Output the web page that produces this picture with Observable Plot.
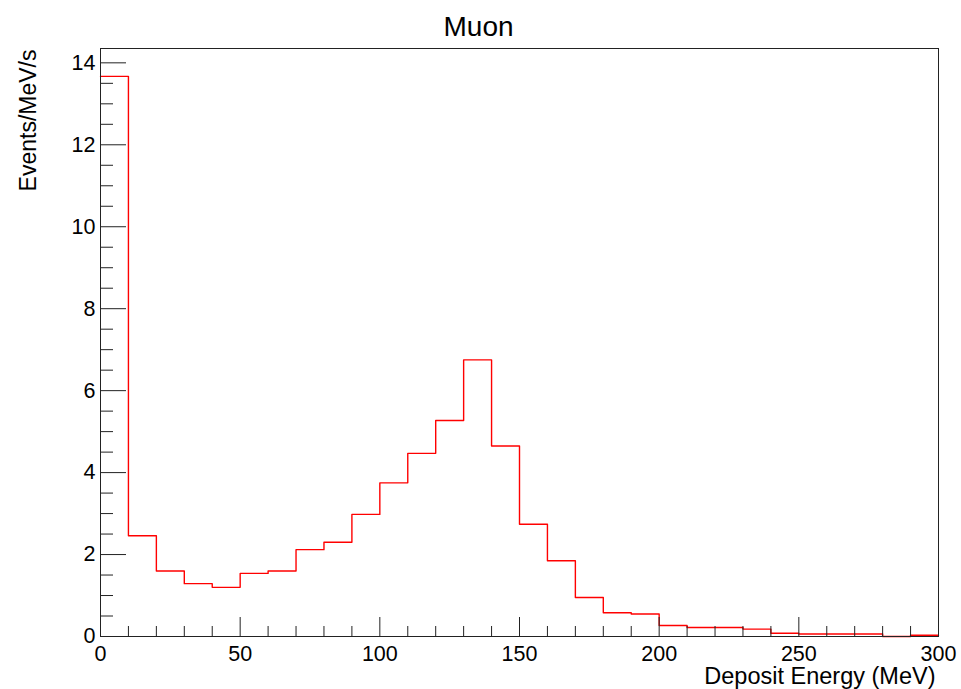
<!DOCTYPE html>
<html>
<head>
<meta charset="utf-8">
<script src="https://cdn.jsdelivr.net/npm/d3@7"></script>
<script src="https://cdn.jsdelivr.net/npm/@observablehq/plot@0.6"></script>
<style>
  html, body { margin: 0; padding: 0; background: #fff; }
  #chart svg { display: block; font-family: "Liberation Sans", Arial, Helvetica, sans-serif; }
</style>
</head>
<body>
<div id="chart"></div>
<script>
// Bin lower edges (MeV) and histogram contents (Events/MeV/s)
const binLow = [0, 10, 20, 30, 40, 50, 60, 70, 80, 90, 100, 110, 120, 130, 140,
                150, 160, 170, 180, 190, 200, 210, 220, 230, 240, 250, 260, 270, 280, 290];
const binHigh = 300;
const counts = [13.67, 2.46, 1.60, 1.29, 1.20, 1.54, 1.60, 2.12, 2.30, 2.98, 3.75, 4.47, 5.27, 6.75, 4.65,
                2.74, 1.85, 0.95, 0.58, 0.55, 0.27, 0.22, 0.22, 0.18, 0.08, 0.06, 0.06, 0.06, 0.00, 0.03];
const xMajorTicks = [0, 50, 100, 150, 200, 250, 300];
const xMinorTicks = [10, 20, 30, 40, 60, 70, 80, 90, 110, 120, 130, 140, 160, 170, 180, 190,
                     210, 220, 230, 240, 260, 270, 280, 290];
const yMajorTicks = [0, 2, 4, 6, 8, 10, 12, 14];
const yMinorTicks = [0.5, 1, 1.5, 2.5, 3, 3.5, 4.5, 5, 5.5, 6.5, 7, 7.5, 8.5, 9, 9.5,
                     10.5, 11, 11.5, 12.5, 13, 13.5];
const titleText = "Muon";
const xTitle = "Deposit Energy (MeV)";
const yTitle = "Events/MeV/s";

const steps = binLow.map((b, i) => ({x: b, y: counts[i]}));
steps.push({x: binHigh, y: counts[counts.length - 1]});

const W = 961, H = 689;
const chart = Plot.plot({
  width: W,
  height: H,
  marginLeft: 100,
  marginRight: 23,
  marginTop: 48,
  marginBottom: 53,
  style: {fontFamily: '"Liberation Sans", Arial, Helvetica, sans-serif', fontSize: "21px", color: "#000", background: "#fff"},
  x: {domain: [0, 300], label: null},
  y: {domain: [0, 14.35], label: null},
  marks: [
    Plot.line(steps, {x: "x", y: "y", curve: "step-after", stroke: "#ff0000", strokeWidth: 1.4}),
    Plot.axisX({ticks: xMajorTicks, tickSize: -19, tickPadding: 28, tickFormat: d => String(d), label: null, stroke: "#222", fontSize: 21.5}),
    Plot.axisX({ticks: xMinorTicks, tickSize: -10, tickFormat: () => "", label: null, stroke: "#222"}),
    Plot.axisY({ticks: yMajorTicks, tickSize: -26, tickPadding: 31, tickFormat: d => String(d), label: null, stroke: "#222", fontSize: 21.5}),
    Plot.axisY({ticks: yMinorTicks, tickSize: -13, tickFormat: () => "", label: null, stroke: "#222"}),
    Plot.frame({stroke: "#222", strokeWidth: 1}),
    Plot.text([titleText], {frameAnchor: "top-left", dx: 378, dy: -13, lineAnchor: "bottom", textAnchor: "middle", fontSize: 28}),
    Plot.text([xTitle], {frameAnchor: "bottom-right", dx: -3, dy: 47, lineAnchor: "bottom", textAnchor: "end", fontSize: 23.5}),
    Plot.text([yTitle], {frameAnchor: "top-left", dx: -72, dy: 1, rotate: -90, textAnchor: "end", lineAnchor: "middle", fontSize: 23})
  ]
});
document.getElementById("chart").appendChild(chart);
</script>
</body>
</html>
